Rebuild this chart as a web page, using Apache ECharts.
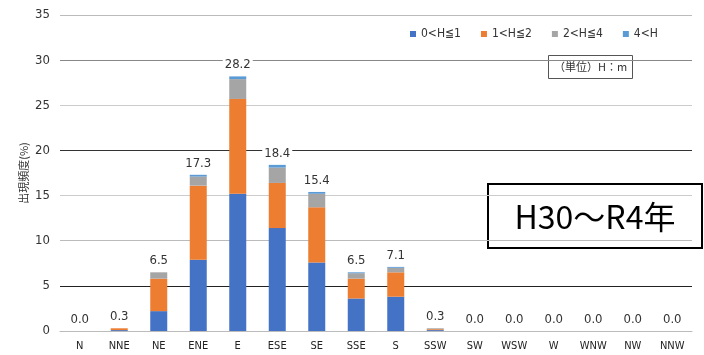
<!DOCTYPE html>
<html><head><meta charset="utf-8">
<script src="https://cdn.jsdelivr.net/npm/echarts@6/dist/echarts.min.js"></script>
<style>html,body{margin:0;padding:0;background:#fff}#c{width:704px;height:355px}</style>
</head><body><div id="c"></div>
<script>
const categories = ['N','NNE','NE','ENE','E','ESE','SE','SSE','S','SSW','SW','WSW','W','WNW','NW','NNW'];
const seriesNames = ['0<H≦1','1<H≦2','2<H≦4','4<H'];
const h0to1 = [0, 0.1, 2.2, 7.9, 15.2, 11.4, 7.6, 3.6, 3.8, 0.1, 0, 0, 0, 0, 0, 0];
const h1to2 = [0, 0.2, 3.6, 8.2, 10.5, 5.0, 6.1, 2.2, 2.7, 0.1, 0, 0, 0, 0, 0, 0];
const h2to4 = [0, 0.0, 0.7, 1.0, 2.2, 1.7, 1.5, 0.6, 0.5, 0.1, 0, 0, 0, 0, 0, 0];
const hOver4 = [0, 0.0, 0.0, 0.2, 0.3, 0.3, 0.2, 0.1, 0.1, 0.0, 0, 0, 0, 0, 0, 0];
const totals = [0.0, 0.3, 6.5, 17.3, 28.2, 18.4, 15.4, 6.5, 7.1, 0.3, 0.0, 0.0, 0.0, 0.0, 0.0, 0.0];
const yTicks = [0,5,10,15,20,25,30,35];
const yName = '出現頻度(%)';

const colors = ['#4472C4','#ED7D31','#A5A5A5','#5B9BD5'];
const narrow = "'Liberation Sans Narrow','DejaVu Sans Condensed','Noto Sans CJK JP',sans-serif";
const chart = echarts.init(document.getElementById('c'));
const data = [h0to1,h1to2,h2to4,hOver4];
const series = data.map((d,i)=>({
  name: seriesNames[i], type:'bar', stack:'t', data:d, barWidth:17,
  itemStyle:{color:colors[i]},
  label: i===3 ? {show:true, position:'top', distance:4,
    formatter:p=>totals[p.dataIndex].toFixed(1),
    backgroundColor:'#fff', padding:[1,2], color:'#333', fontSize:13, fontFamily:narrow} : {show:false}
}));
chart.setOption({
  animation:false,
  color:colors,
  grid:{left:60,right:12,top:15,bottom:24},
  legend:{data:seriesNames, left:405, top:23, itemWidth:6, itemHeight:6, itemGap:20, icon:'rect',
    textStyle:{fontSize:12, color:'#333', fontFamily:narrow}},
  xAxis:{type:'category', data:categories, axisTick:{show:false},
    axisLine:{lineStyle:{color:'#bbb'}},
    axisLabel:{color:'#222', fontSize:11, margin:10, fontFamily:narrow}},
  yAxis:{type:'value', min:0, max:35, interval:5,
    axisLabel:{color:'#333', fontSize:13, margin:10, fontFamily:narrow},
    splitLine:{lineStyle:{color:['#bbb','#222','#bbb','#ccc','#333','#ccc','#888','#bbb']}}},
  series: series,
  graphic:[
    {type:'text', x:24, y:173, rotation:Math.PI/2, style:{text:yName, fill:'#333', font:"11px 'Noto Sans CJK JP'", textAlign:'center', textVerticalAlign:'middle'}},
    {type:'group', left:548, top:55, children:[
      {type:'rect', shape:{x:0,y:0,width:84,height:23}, style:{fill:'#fff', stroke:'#555', lineWidth:1}},
      {type:'text', x:42, y:11.5, style:{text:'（単位）H：m', fill:'#333', font:"11px 'Noto Sans CJK JP'", textAlign:'center', textVerticalAlign:'middle'}}
    ]},
    {type:'group', left:487, top:183, children:[
      {type:'rect', shape:{x:0,y:0,width:214,height:64}, style:{fill:'#fff', stroke:'#000', lineWidth:2}},
      {type:'text', x:107, y:33, style:{text:'H30～R4年', fill:'#000', font:"32px 'Noto Sans CJK JP'", textAlign:'center', textVerticalAlign:'middle'}}
    ]}
  ]
});
</script></body></html>
